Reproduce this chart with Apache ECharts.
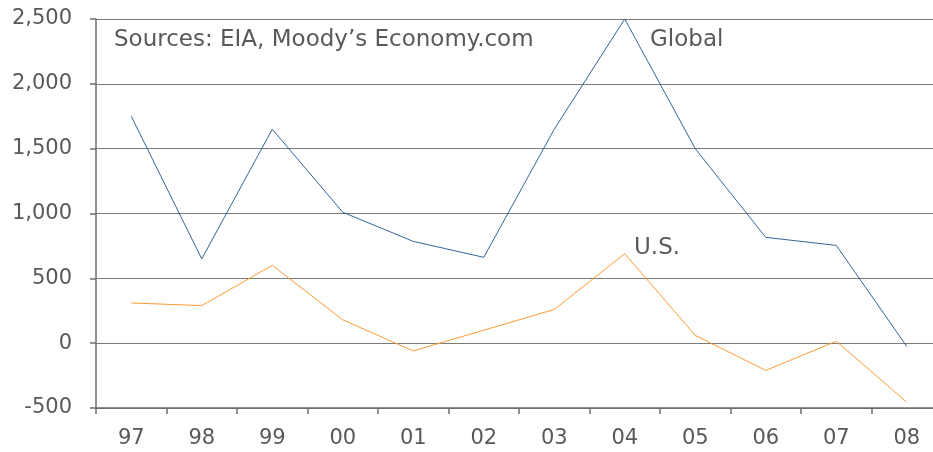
<!DOCTYPE html>
<html><head><meta charset="utf-8">
<script src="https://cdn.jsdelivr.net/npm/echarts@6/dist/echarts.min.js"></script>
<style>html,body{margin:0;padding:0;background:#fff}#c{width:933px;height:452px}</style>
</head><body><div id="c"></div>
<script>
const categories = ['97','98','99','00','01','02','03','04','05','06','07','08'];
const globalValues = [1750, 650, 1650, 1010, 785, 662, 1650, 2500, 1500, 816, 754, -25];
const usValues = [310, 290, 600, 180, -60, 100, 260, 690, 60, -210, 15, -455];
const yTicks = {min: -500, max: 2500, interval: 500};
const sourceText = 'Sources: EIA, Moody\u2019s Economy.com';
const globalLabel = 'Global';
const usLabel = 'U.S.';

const font = 'Verdana, "DejaVu Sans", sans-serif';
const textColor = '#595959';
const chart = echarts.init(document.getElementById('c'));
chart.setOption({
  animation: false,
  grid: {left: 96, width: 846, top: 19, bottom: 44, outerBoundsMode: 'none', containLabel: false},
  xAxis: {
    type: 'category', data: categories, boundaryGap: true,
    axisLine: {onZero: false, lineStyle: {color: '#6e6e6e', width: 1.5}},
    axisTick: {show: true, length: 6, inside: false, lineStyle: {color: '#6e6e6e', width: 1.5}},
    axisLabel: {color: textColor, fontFamily: font, fontSize: 21, margin: 20}
  },
  yAxis: {
    type: 'value', min: yTicks.min, max: yTicks.max, interval: yTicks.interval,
    axisLine: {show: true, lineStyle: {color: '#6e6e6e', width: 1.5}},
    axisTick: {show: true, length: 6, lineStyle: {color: '#6e6e6e', width: 1.5}},
    axisLabel: {color: textColor, fontFamily: font, fontSize: 21, margin: 24,
      formatter: v => v.toLocaleString('en-US')},
    splitLine: {lineStyle: {color: '#7a7a7a', width: 1.2}}
  },
  series: [
    {name: 'Global', type: 'line', data: globalValues, symbol: 'none',
     lineStyle: {color: '#336699', width: 1}},
    {name: 'U.S.', type: 'line', data: usValues, symbol: 'none',
     lineStyle: {color: '#ff9933', width: 1}}
  ],
  graphic: [
    {type: 'text', left: 114, top: 29, style: {text: sourceText, fill: textColor, font: '23px ' + font}},
    {type: 'text', left: 650, top: 29, style: {text: globalLabel, fill: textColor, font: '23px ' + font}},
    {type: 'text', left: 634, top: 237, style: {text: usLabel, fill: textColor, font: '23px ' + font}}
  ]
});
</script></body></html>
